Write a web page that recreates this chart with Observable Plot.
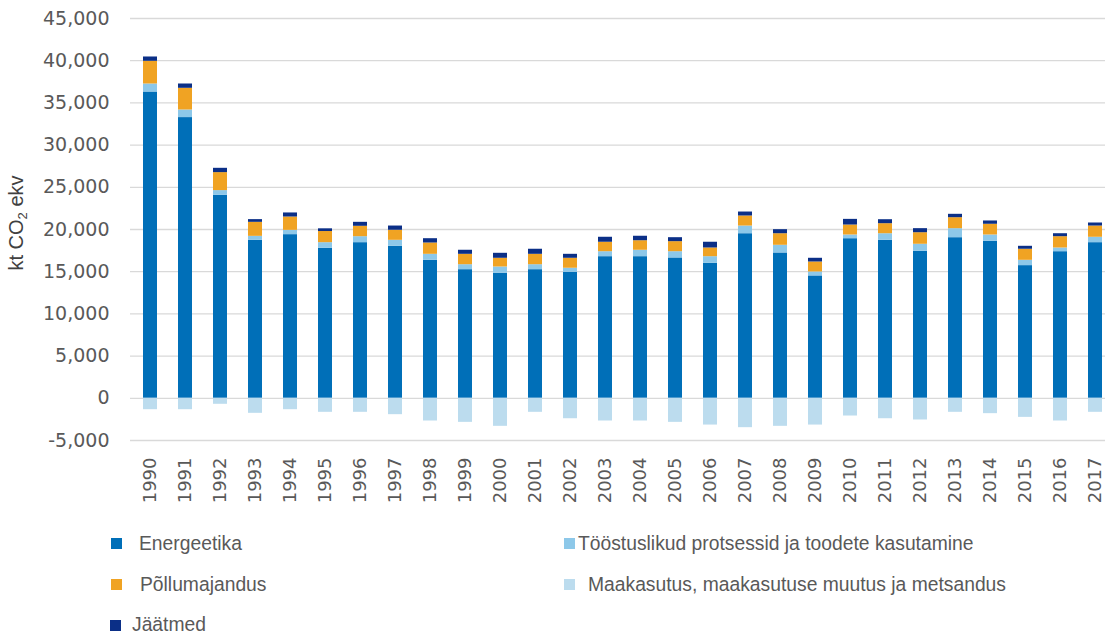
<!DOCTYPE html>
<html>
<head>
<meta charset="utf-8">
<script src="https://cdn.jsdelivr.net/npm/d3@7"></script>
<script src="https://cdn.jsdelivr.net/npm/@observablehq/plot@0.6"></script>
<style>
  html, body { margin: 0; padding: 0; background: #fff; }
  #wrap { position: relative; width: 1105px; height: 639px; overflow: hidden; background: #fff; }
  #wrap svg { position: absolute; left: 0; top: 0; }
  .lg-sq { position: absolute; width: 11px; height: 11px; }
  .lg-tx { position: absolute; font-family: "Liberation Sans", Arial, sans-serif; font-size: 19.3px; line-height: 20px; color: #595959; white-space: nowrap; }
</style>
</head>
<body>
<div id="wrap"></div>
<script>
// ---- data (kt CO2 ekv) ----
const years = ["1990","1991","1992","1993","1994","1995","1996","1997","1998","1999","2000","2001","2002","2003","2004","2005","2006","2007","2008","2009","2010","2011","2012","2013","2014","2015","2016","2017"];
const energeetika = [36290, 33260, 24050, 18720, 19390, 17770, 18440, 18010, 16350, 15240, 14810, 15240, 14930, 16780, 16780, 16630, 16000, 19500, 17220, 14500, 18910, 18720, 17420, 19030, 18600, 15720, 17370, 18440];
const toostus = [950, 900, 560, 470, 510, 670, 710, 710, 710, 590, 750, 590, 480, 590, 760, 740, 780, 910, 910, 470, 440, 780, 830, 1070, 750, 630, 440, 640];
const pollumajandus = [2690, 2570, 2130, 1660, 1580, 1320, 1230, 1190, 1340, 1230, 1030, 1230, 1180, 1120, 1130, 1190, 1030, 1190, 1370, 1180, 1180, 1190, 1370, 1300, 1270, 1310, 1340, 1330];
const jaatmed = [510, 510, 510, 320, 480, 320, 470, 500, 510, 480, 590, 600, 470, 590, 530, 470, 680, 470, 480, 440, 670, 470, 480, 400, 390, 350, 350, 360];
const maakasutus = [-1350, -1350, -710, -1780, -1350, -1660, -1660, -1940, -2690, -2850, -3320, -1660, -2420, -2690, -2690, -2850, -3170, -3480, -3320, -3170, -2100, -2420, -2570, -1660, -1820, -2260, -2690, -1660];

const seriesNames = ["Energeetika", "Tööstuslikud protsessid ja toodete kasutamine", "Põllumajandus", "Jäätmed", "Maakasutus, maakasutuse muutus ja metsandus"];
const seriesColors = ["#006fb8", "#8dc8e9", "#f0a323", "#0b2f87", "#bcdcee"];
const seriesValues = [energeetika, toostus, pollumajandus, jaatmed, maakasutus];
const yTicks = [-5000, 0, 5000, 10000, 15000, 20000, 25000, 30000, 35000, 40000, 45000];

// legend layout (order as in the reference)
const legendItems = [
  {name: seriesNames[0], color: seriesColors[0]},
  {name: seriesNames[1], color: seriesColors[1]},
  {name: seriesNames[2], color: seriesColors[2]},
  {name: seriesNames[4], color: seriesColors[4]},
  {name: seriesNames[3], color: seriesColors[3]}
];

// ---- long table ----
const table = [];
seriesNames.forEach((s, i) => {
  years.forEach((yr, j) => table.push({year: yr, series: s, value: seriesValues[i][j]}));
});

const plot = Plot.plot({
  width: 1105,
  height: 520,
  marginTop: 18,
  marginBottom: 80,
  marginLeft: 130,
  marginRight: 0,
  style: {fontFamily: "DejaVu Sans, sans-serif", fontSize: "18px", color: "#595959", background: "transparent"},
  x: {type: "band", domain: years, range: [130, 1115.6], paddingInner: 0.6, paddingOuter: 0.3},
  y: {domain: [-5000, 45000]},
  color: {domain: seriesNames, range: seriesColors},
  marks: [
    Plot.gridY(yTicks, {stroke: "#d9d9d9", strokeOpacity: 1, strokeWidth: 1.3}),
    Plot.barY(table, {x: "year", y: "value", fill: "series", order: seriesNames}),
    Plot.axisY(yTicks, {tickSize: 0, tickPadding: 21, fontSize: 19, fill: "#595959",
      tickFormat: d => d.toLocaleString("en-US"), label: null}),
    Plot.axisX({tickSize: 0, tickPadding: 17, tickRotate: -90, fontSize: 18, fill: "#595959", label: null})
  ]
});

const wrap = document.getElementById("wrap");
wrap.appendChild(plot);

// y-axis title with subscript
const svg = d3.select(plot);
const t = svg.append("text")
  .attr("transform", "translate(23,223) rotate(-90)")
  .attr("text-anchor", "middle")
  .attr("font-family", "Liberation Sans, Arial, sans-serif")
  .attr("font-size", 20)
  .attr("fill", "#404040");
t.append("tspan").text("kt CO");
t.append("tspan").attr("font-size", 13).attr("dy", 4).text("2");
t.append("tspan").attr("dy", -4).text(" ekv");

// legend
const legendPos = [
  {sq: [111, 538], tx: [139, 534]},
  {sq: [564, 538], tx: [578, 534]},
  {sq: [111, 579], tx: [140, 575]},
  {sq: [564, 579], tx: [588, 575]},
  {sq: [110, 620], tx: [132, 615]}
];
legendItems.forEach((it, i) => {
  const p = legendPos[i];
  const sq = document.createElement("div");
  sq.className = "lg-sq";
  sq.style.left = p.sq[0] + "px";
  sq.style.top = p.sq[1] + "px";
  sq.style.background = it.color;
  wrap.appendChild(sq);
  const tx = document.createElement("div");
  tx.className = "lg-tx";
  tx.style.left = p.tx[0] + "px";
  tx.style.top = p.tx[1] + "px";
  tx.textContent = it.name;
  wrap.appendChild(tx);
});
</script>
</body>
</html>
